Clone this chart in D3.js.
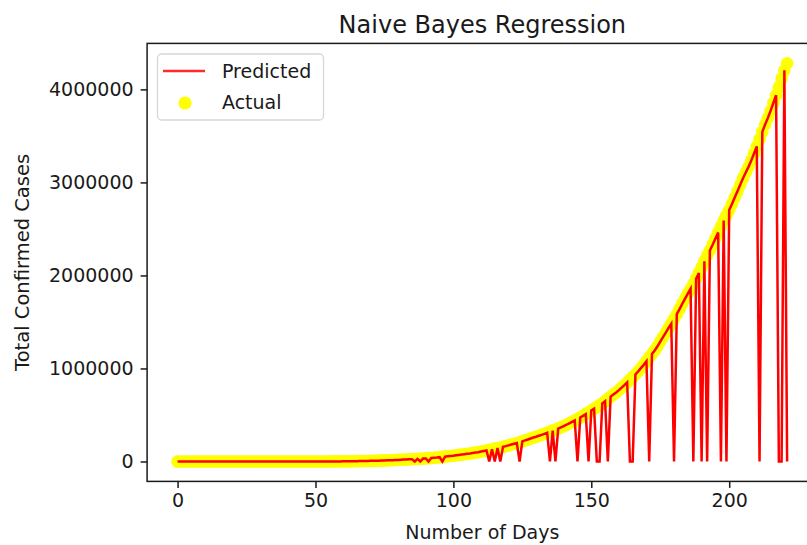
<!DOCTYPE html>
<html>
<head>
<meta charset="utf-8">
<script src="https://cdn.jsdelivr.net/npm/d3@7"></script>
<style>
  html, body { margin: 0; padding: 0; background: #ffffff; }
  svg { display: block; }
  text { font-family: "DejaVu Sans", sans-serif; fill: #1a1a1a; }
</style>
</head>
<body>
<svg id="chart" width="807" height="545"></svg>
<script>
// ---- data ----
const title = "Naive Bayes Regression";
const xLabel = "Number of Days";
const yLabel = "Total Confirmed Cases";
const seriesNames = ["Predicted", "Actual"];
const xTicks = [0, 50, 100, 150, 200];
const yTicks = [0, 1000000, 2000000, 3000000, 4000000];

const actual = [
  1,1,1,2,3,3,3,3,3,3,
  3,3,3,3,3,3,3,3,3,3,
  3,3,3,3,3,3,3,3,3,3,
  3,3,5,6,28,30,31,34,39,48,
  63,71,81,91,102,112,126,146,171,198,
  256,334,403,497,571,657,730,883,1019,1139,
  1326,1635,2059,2545,3105,3684,4293,4777,5350,5915,
  6728,7599,8453,9211,10454,11487,12322,13430,14353,15724,
  17305,18544,20081,21373,23077,24530,26283,27890,29451,31324,
  33062,34863,37257,39699,42505,46437,49400,52987,56351,59695,
  62808,67161,70768,74292,78055,81997,85784,90648,95698,100328,
  106475,112028,118226,124794,131423,138536,144950,150793,158086,165386,
  173491,181827,190609,198370,207191,216824,226713,236184,246622,257486,
  265928,276146,286605,297535,308993,320922,332424,343091,354065,366946,
  380532,395048,410451,425282,440215,456183,473105,490401,508953,528859,
  548318,566840,585481,604641,625544,648315,673165,697413,719665,742417,
  767296,793802,820916,849553,878254,906752,936181,968857,1003832,1038716,
  1077781,1118043,1155338,1193078,1238635,1288108,1337024,1385635,1435616,1480073,
  1531669,1583792,1638870,1695988,1750723,1803695,1855745,1908254,1964536,2027074,
  2088611,2153010,2215074,2268675,2329638,2396637,2461190,2526192,2589682,2647663,
  2702742,2767273,2836925,2905823,2975701,3044940,3106348,3167323,3234474,3310234,
  3387500,3463972,3542733,3621245,3691166,3769523,3853406,3936747,4023179,4113811,
  4204613,4280422
];

const predicted = [
  1,1,1,2,3,3,3,3,3,3,
  3,3,3,3,3,3,3,3,3,3,
  3,3,3,3,3,3,3,3,3,3,
  3,3,5,6,28,30,31,34,39,48,
  63,71,81,91,102,112,126,146,171,198,
  256,334,403,497,571,657,730,883,1019,1139,
  1326,1635,2059,2545,3105,3684,4293,4777,5350,5915,
  6728,7599,8453,9211,10454,11487,12322,13430,14353,15724,
  17305,18544,20081,21373,23077,24530,0,27890,0,31324,
  33062,0,37257,39699,42505,46437,0,52987,56351,59695,
  62808,67161,70768,74292,78055,81997,85784,90648,95698,100328,
  106475,112028,118226,0,131423,0,144950,0,158086,165386,
  173491,181827,190609,198370,0,216824,226713,236184,246622,257486,
  265928,276146,286605,297535,308993,0,332424,0,354065,366946,
  380532,395048,410451,425282,440215,0,473105,490401,508953,0,
  548318,566840,0,0,625544,648315,0,697413,719665,742417,
  767296,793802,820916,849553,0,0,936181,968857,1003832,1038716,
  1077781,0,1155338,1193078,1238635,1288108,1337024,1385635,1435616,1480073,
  0,1583792,1638870,1695988,1750723,1803695,1855745,0,1964536,2027074,
  0,2153010,0,2268675,2329638,2396637,2461190,0,2589682,0,
  2702742,2767273,2836925,2905823,2975701,3044940,3106348,3167323,3234474,3310234,
  3387500,0,3542733,3621245,3691166,3769523,3853406,3936747,0,0,
  4204613,0
];

// ---- layout ----
const W = 807, H = 545;
const axLeft = 147.1, axRight = 817.6, axTop = 43.4, axBottom = 481.4;

const days = actual.map((_, i) => i);
const xMin = d3.min(days), xMax = d3.max(days);
const xPad = (xMax - xMin) * 0.05;
const yMin = Math.min(d3.min(actual), d3.min(predicted));
const yMax = Math.max(d3.max(actual), d3.max(predicted));
const yPad = (yMax - yMin) * 0.05;

const x = d3.scaleLinear().domain([xMin - xPad, xMax + xPad]).range([axLeft, axRight]);
const y = d3.scaleLinear().domain([yMin - yPad, yMax + yPad]).range([axBottom, axTop]);

const svg = d3.select("#chart");

svg.append("defs").append("clipPath").attr("id", "clip")
  .append("rect").attr("x", axLeft).attr("y", axTop)
  .attr("width", axRight - axLeft).attr("height", axBottom - axTop);

const plot = svg.append("g").attr("clip-path", "url(#clip)");

// Actual scatter (yellow)
plot.append("g").selectAll("circle")
  .data(actual)
  .join("circle")
  .attr("cx", (d, i) => x(days[i]))
  .attr("cy", d => y(d))
  .attr("r", 6.3)
  .attr("fill", "#ffff00");

// Predicted line (red)
plot.append("path")
  .datum(predicted)
  .attr("fill", "none")
  .attr("stroke", "#ff0000")
  .attr("stroke-width", 2.5)
  .attr("stroke-linejoin", "miter")
  .attr("d", d3.line().x((d, i) => x(days[i])).y(d => y(d)));

// Spines
const spineColor = "#1a1a1a", spineW = 1.5;
svg.append("rect")
  .attr("x", axLeft).attr("y", axTop)
  .attr("width", axRight - axLeft).attr("height", axBottom - axTop)
  .attr("fill", "none").attr("stroke", spineColor).attr("stroke-width", spineW);

// Axes
const fmt = d3.format("d");
const xAxis = svg.append("g")
  .attr("transform", `translate(0,${axBottom})`)
  .call(d3.axisBottom(x).tickValues(xTicks).tickFormat(fmt).tickSize(6.5).tickPadding(6).tickSizeOuter(0));
const yAxis = svg.append("g")
  .attr("transform", `translate(${axLeft},0)`)
  .call(d3.axisLeft(y).tickValues(yTicks).tickFormat(fmt).tickSize(6.5).tickPadding(7).tickSizeOuter(0));
[xAxis, yAxis].forEach(g => {
  g.select(".domain").remove();
  g.selectAll(".tick line").attr("stroke", spineColor).attr("stroke-width", spineW);
  g.selectAll(".tick text").attr("font-size", 19).attr("font-family", "DejaVu Sans").attr("fill", "#1a1a1a");
});

// Title and labels
const axMid = (axLeft + axRight) / 2;
svg.append("text").attr("x", axMid).attr("y", 33)
  .attr("text-anchor", "middle").attr("font-size", 24).text(title);
svg.append("text").attr("x", axMid).attr("y", 539)
  .attr("text-anchor", "middle").attr("font-size", 19).text(xLabel);
svg.append("text")
  .attr("transform", `translate(29,${(axTop + axBottom) / 2}) rotate(-90)`)
  .attr("text-anchor", "middle").attr("font-size", 19.5).text(yLabel);

// Legend
const lg = svg.append("g");
lg.append("rect").attr("x", 157.5).attr("y", 54).attr("width", 166).attr("height", 66)
  .attr("rx", 4).attr("fill", "#ffffff").attr("fill-opacity", 0.8)
  .attr("stroke", "#d6d6d6").attr("stroke-width", 1.3);
lg.append("line").attr("x1", 163).attr("x2", 205).attr("y1", 71).attr("y2", 71)
  .attr("stroke", "#ff2a2a").attr("stroke-width", 2.6);
lg.append("circle").attr("cx", 185).attr("cy", 103).attr("r", 6.6).attr("fill", "#ffff00");
lg.append("text").attr("x", 222).attr("y", 71).attr("dy", "0.35em")
  .attr("font-size", 19).text(seriesNames[0]);
lg.append("text").attr("x", 222).attr("y", 102).attr("dy", "0.35em")
  .attr("font-size", 19).text(seriesNames[1]);
</script>
</body>
</html>
